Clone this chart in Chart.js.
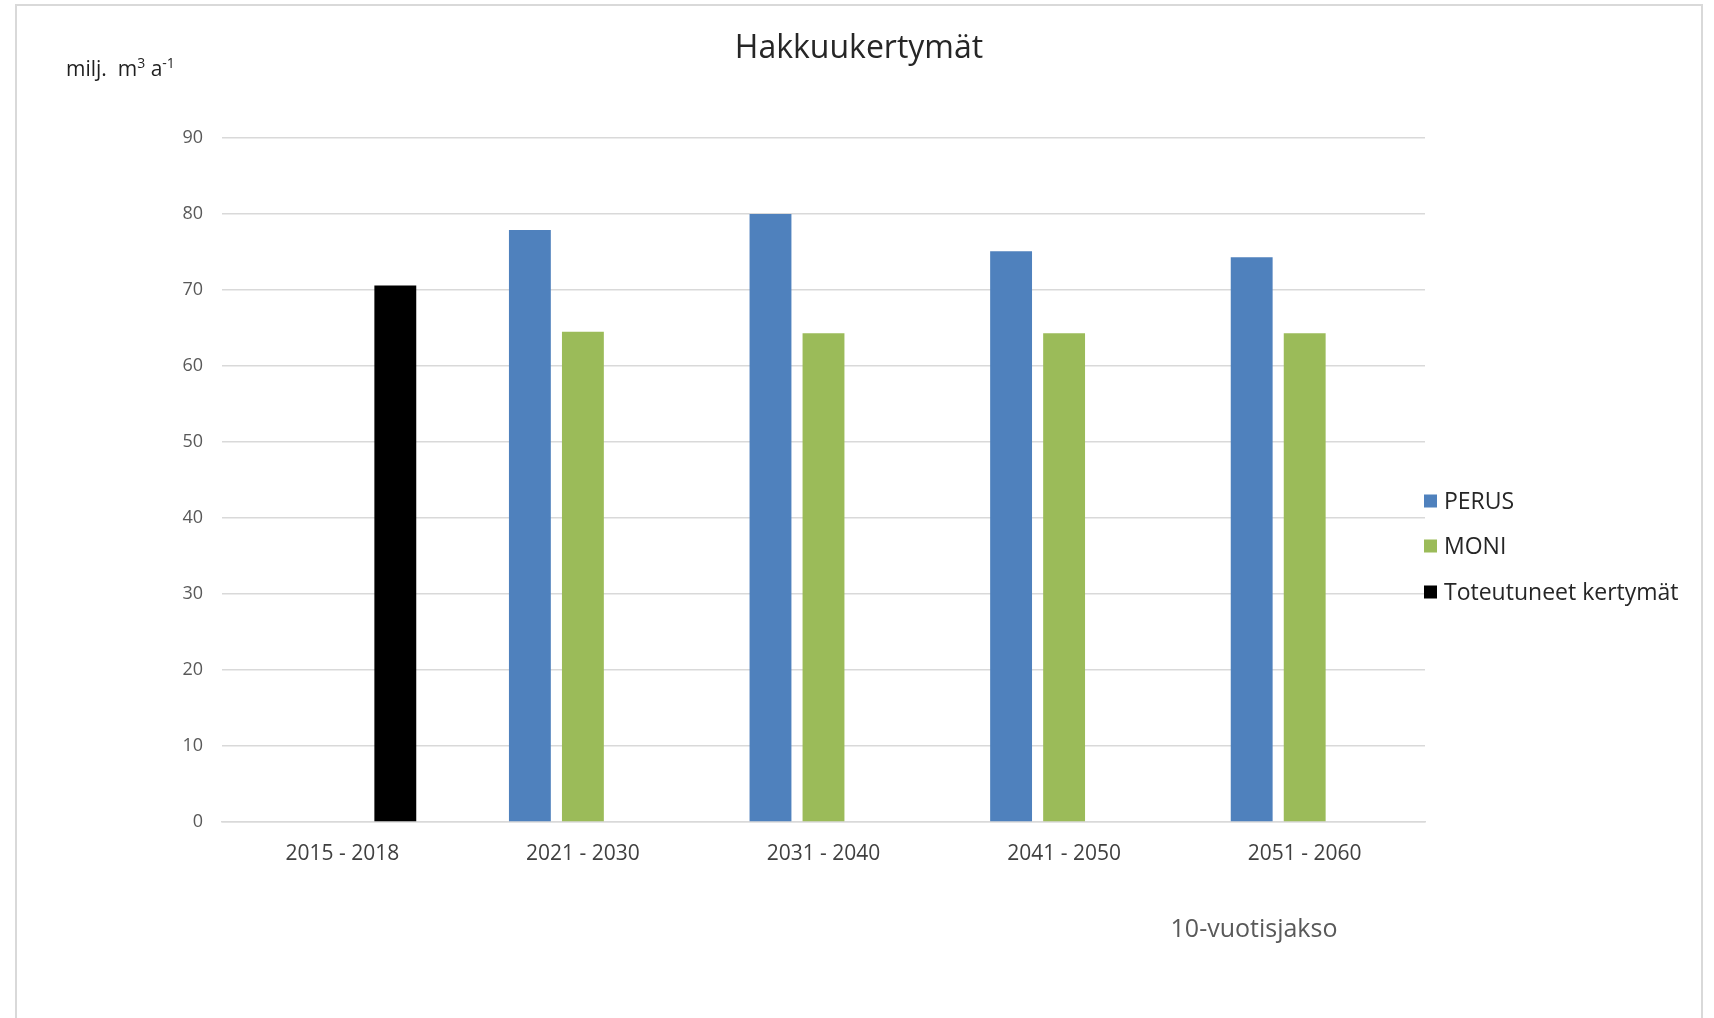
<!DOCTYPE html>
<html lang="fi">
<head>
<meta charset="utf-8">
<title>Hakkuukertymät</title>
<script src="https://cdn.jsdelivr.net/npm/chart.js@4.4.1/dist/chart.umd.min.js"></script>
<style>
  html, body { margin: 0; padding: 0; background: #ffffff; }
  #wrap { position: relative; width: 1714px; height: 1018px; }
</style>
</head>
<body>
<div id="wrap"><canvas id="chart" width="1714" height="1018"></canvas></div>
<script>
// Hakkuukertymät, milj. m³ vuodessa, 10-vuotisjaksoittain
const categories = ['2015 - 2018', '2021 - 2030', '2031 - 2040', '2041 - 2050', '2051 - 2060'];
const perus = [null, 77.9, 80.0, 75.1, 74.3];
const moni = [null, 64.5, 64.3, 64.3, 64.3];
const toteutuneet = [70.6, null, null, null, null];
const seriesNames = ['PERUS', 'MONI', 'Toteutuneet kertymät'];
const yTicks = [0, 10, 20, 30, 40, 50, 60, 70, 80, 90];

const FONT = '"Open Sans", "DejaVu Sans", sans-serif';
const colors = ['#4f81bd', '#9bbb59', '#000000'];

// Frame, title, unit label, axis title and legend drawn on the canvas
const decorations = {
  id: 'decorations',
  beforeDraw(chart) {
    const ctx = chart.ctx;
    ctx.save();
    ctx.fillStyle = '#ffffff';
    ctx.fillRect(0, 0, chart.width, chart.height);
    ctx.strokeStyle = '#d9d9d9';
    ctx.lineWidth = 2;
    ctx.strokeRect(16, 5, 1686, 1030);
    ctx.restore();
  },
  afterDraw(chart) {
    const ctx = chart.ctx;
    ctx.save();
    ctx.textBaseline = 'alphabetic';

    // title
    ctx.fillStyle = '#262626';
    ctx.font = '32px ' + FONT;
    ctx.textAlign = 'center';
    ctx.fillText('Hakkuukertymät', 859, 58);

    // unit label with superscripts
    ctx.textAlign = 'left';
    ctx.fillStyle = '#1f1f1f';
    let x = 66;
    const base = 76;
    const parts = [
      ['milj.  m', false], ['3', true], [' a', false], ['-1', true]
    ];
    for (const [t, sup] of parts) {
      ctx.font = (sup ? '500 14px ' : '500 21px ') + FONT;
      ctx.fillText(t, x, sup ? base - 8 : base);
      x += ctx.measureText(t).width;
    }

    // x axis title
    ctx.fillStyle = '#595959';
    ctx.font = '25px ' + FONT;
    ctx.textAlign = 'center';
    ctx.fillText('10-vuotisjakso', 1254, 937);

    // legend
    ctx.textAlign = 'left';
    ctx.textBaseline = 'middle';
    ctx.font = '23px ' + FONT;
    const rows = [501, 546, 592];
    chart.data.datasets.forEach((ds, i) => {
      ctx.fillStyle = ds.backgroundColor;
      ctx.fillRect(1424, rows[i] - 6.5, 13, 13);
      ctx.fillStyle = '#262626';
      ctx.fillText(ds.label, 1444, rows[i] + 1);
    });
    ctx.restore();
  }
};

new Chart(document.getElementById('chart'), {
  type: 'bar',
  data: {
    labels: categories,
    datasets: [
      { label: seriesNames[0], data: perus, backgroundColor: colors[0] },
      { label: seriesNames[1], data: moni, backgroundColor: colors[1] },
      { label: seriesNames[2], data: toteutuneet, backgroundColor: colors[2] }
    ]
  },
  options: {
    responsive: false,
    animation: false,
    devicePixelRatio: 1,
    layout: { padding: { top: 138, left: 0, right: 289, bottom: 0 } },
    datasets: { bar: { categoryPercentage: 0.661, barPercentage: 0.79 } },
    plugins: {
      legend: { display: false },
      title: { display: false },
      tooltip: { enabled: false }
    },
    scales: {
      x: {
        grid: { display: false, drawTicks: false },
        border: { display: true, color: '#d9d9d9', width: 1.5 },
        ticks: { color: '#404040', font: { family: FONT, size: 21 }, padding: 19 },
        afterFit(scale) { scale.height = 196; }
      },
      y: {
        min: 0,
        max: 90,
        afterBuildTicks(scale) { scale.ticks = yTicks.map(v => ({ value: v })); },
        grid: { color: '#d9d9d9', lineWidth: 1.5, drawTicks: false },
        border: { display: false },
        ticks: { color: '#595959', font: { family: FONT, size: 18 }, padding: 19 },
        afterFit(scale) { scale.width = 222; }
      }
    }
  },
  plugins: [decorations]
});
</script>
</body>
</html>
